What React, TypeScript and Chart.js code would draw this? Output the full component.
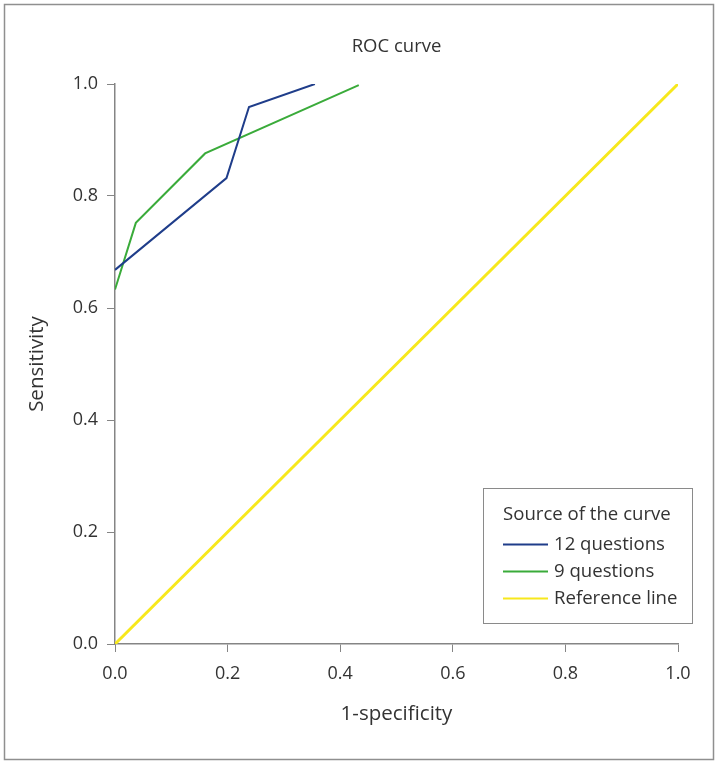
import React, { useEffect, useRef } from "react";
import { Chart, registerables } from "chart.js";

Chart.register(...registerables);

const seriesLabels = ["12 questions", "9 questions", "Reference line"];
const x12 = [0, 0.198, 0.238, 0.355];
const y12 = [0.668, 0.832, 0.959, 1.0];
const x9 = [0, 0.037, 0.16, 0.433];
const y9 = [0.633, 0.752, 0.876, 0.998];
const xRef = [0, 1];
const yRef = [0, 1];
const tickValues = [0, 0.2, 0.4, 0.6, 0.8, 1.0];
const legendTitle = "Source of the curve";
const chartTitle = "ROC curve";
const xTitle = "1-specificity";
const yTitle = "Sensitivity";

const FONT = "'Open Sans', 'Noto Sans', sans-serif";
const TEXT = "#333333";
const AXIS = "#858585";

const toPts = (xs: number[], ys: number[]) => xs.map((x, i) => ({ x, y: ys[i] }));

const legendPlugin = {
  id: "insideLegend",
  afterDraw(chart: any) {
    const ctx = chart.ctx;
    const left = 483.5, top = 488.5, w = 209, h = 135;
    ctx.save();
    ctx.strokeStyle = "#8a8a8a";
    ctx.lineWidth = 1;
    ctx.strokeRect(left, top, w, h);
    ctx.fillStyle = TEXT;
    ctx.font = `18.6px ${FONT}`;
    ctx.textBaseline = "middle";
    ctx.textAlign = "left";
    ctx.fillText(legendTitle, 503, 515);
    chart.data.datasets.forEach((ds: any, i: number) => {
      const y = 544.5 + i * 27;
      ctx.strokeStyle = ds.borderColor;
      ctx.lineWidth = 1.8;
      ctx.beginPath();
      ctx.moveTo(503, y);
      ctx.lineTo(548, y);
      ctx.stroke();
      ctx.fillStyle = TEXT;
      ctx.fillText(ds.label, 554, y);
    });
    ctx.restore();
  },
};

const borderPlugin = {
  id: "outerBorder",
  beforeDraw(chart: any) {
    const ctx = chart.ctx;
    ctx.save();
    ctx.fillStyle = "#ffffff";
    ctx.fillRect(0, 0, chart.width, chart.height);
    ctx.strokeStyle = "#8f8f8f";
    ctx.lineWidth = 1.5;
    ctx.strokeRect(4.5, 4.5, 709, 755);
    ctx.restore();
  },
};

export default function App() {
  const ref = useRef<HTMLCanvasElement>(null);
  useEffect(() => {
    if (!ref.current) return;
    const axisCommon = (title: string, titlePad: any, tickPad: number) => ({
      type: "linear" as const,
      min: 0,
      max: 1,
      afterBuildTicks: (scale: any) => {
        scale.ticks = tickValues.map((v) => ({ value: v }));
      },
      ticks: {
        color: TEXT,
        font: { family: FONT, size: 18 },
        padding: tickPad,
        callback: (v: any) => Number(v).toFixed(1),
        maxRotation: 0,
      },
      grid: {
        display: true,
        drawOnChartArea: false,
        drawTicks: true,
        tickLength: 8,
        color: AXIS,
        lineWidth: 1,
      },
      border: { display: true, color: AXIS, width: 1.5 },
      title: {
        display: true,
        text: title,
        color: TEXT,
        font: { family: FONT, size: 20.5 },
        padding: titlePad,
      },
    });
    const chart = new Chart(ref.current, {
      type: "scatter",
      data: {
        datasets: [
          {
            label: seriesLabels[0],
            data: toPts(x12, y12),
            borderColor: "#1f3d8a",
            backgroundColor: "#1f3d8a",
            borderWidth: 2,
            showLine: true,
            pointRadius: 0,
          },
          {
            label: seriesLabels[1],
            data: toPts(x9, y9),
            borderColor: "#3aab3a",
            backgroundColor: "#3aab3a",
            borderWidth: 2,
            showLine: true,
            pointRadius: 0,
          },
          {
            label: seriesLabels[2],
            data: toPts(xRef, yRef),
            borderColor: "#f7e81c",
            backgroundColor: "#f7e81c",
            borderWidth: 3,
            showLine: true,
            pointRadius: 0,
          },
        ],
      },
      options: {
        animation: false,
        responsive: false,
        devicePixelRatio: 1,
        layout: { padding: { left: 10, right: 40, top: 5, bottom: 10 } },
        plugins: {
          legend: { display: false },
          tooltip: { enabled: false },
          title: {
            display: true,
            fullSize: false,
            text: chartTitle,
            color: TEXT,
            font: { family: FONT, size: 18.5, weight: "normal", lineHeight: 1.2 },
            padding: { top: 30.9, bottom: 25.9 },
          },
        },
        scales: {
          x: {
            ...axisCommon(xTitle, { top: 0, bottom: 28 }, 11),
            position: "bottom",
            afterFit: (s: any) => {
              s.height = 110;
            },
          },
          y: {
            ...axisCommon(yTitle, { top: 14.5, bottom: 0 }, 9),
            position: "left",
            afterFit: (s: any) => {
              s.width = 105;
            },
          },
        },
      } as any,
      plugins: [borderPlugin, legendPlugin],
    });
    return () => chart.destroy();
  }, []);
  return (
    <div style={{ position: "fixed", left: 0, top: 0, width: 718, height: 764, background: "#fff" }}>
      <canvas ref={ref} width={718} height={764} style={{ display: "block" }} />
    </div>
  );
}
